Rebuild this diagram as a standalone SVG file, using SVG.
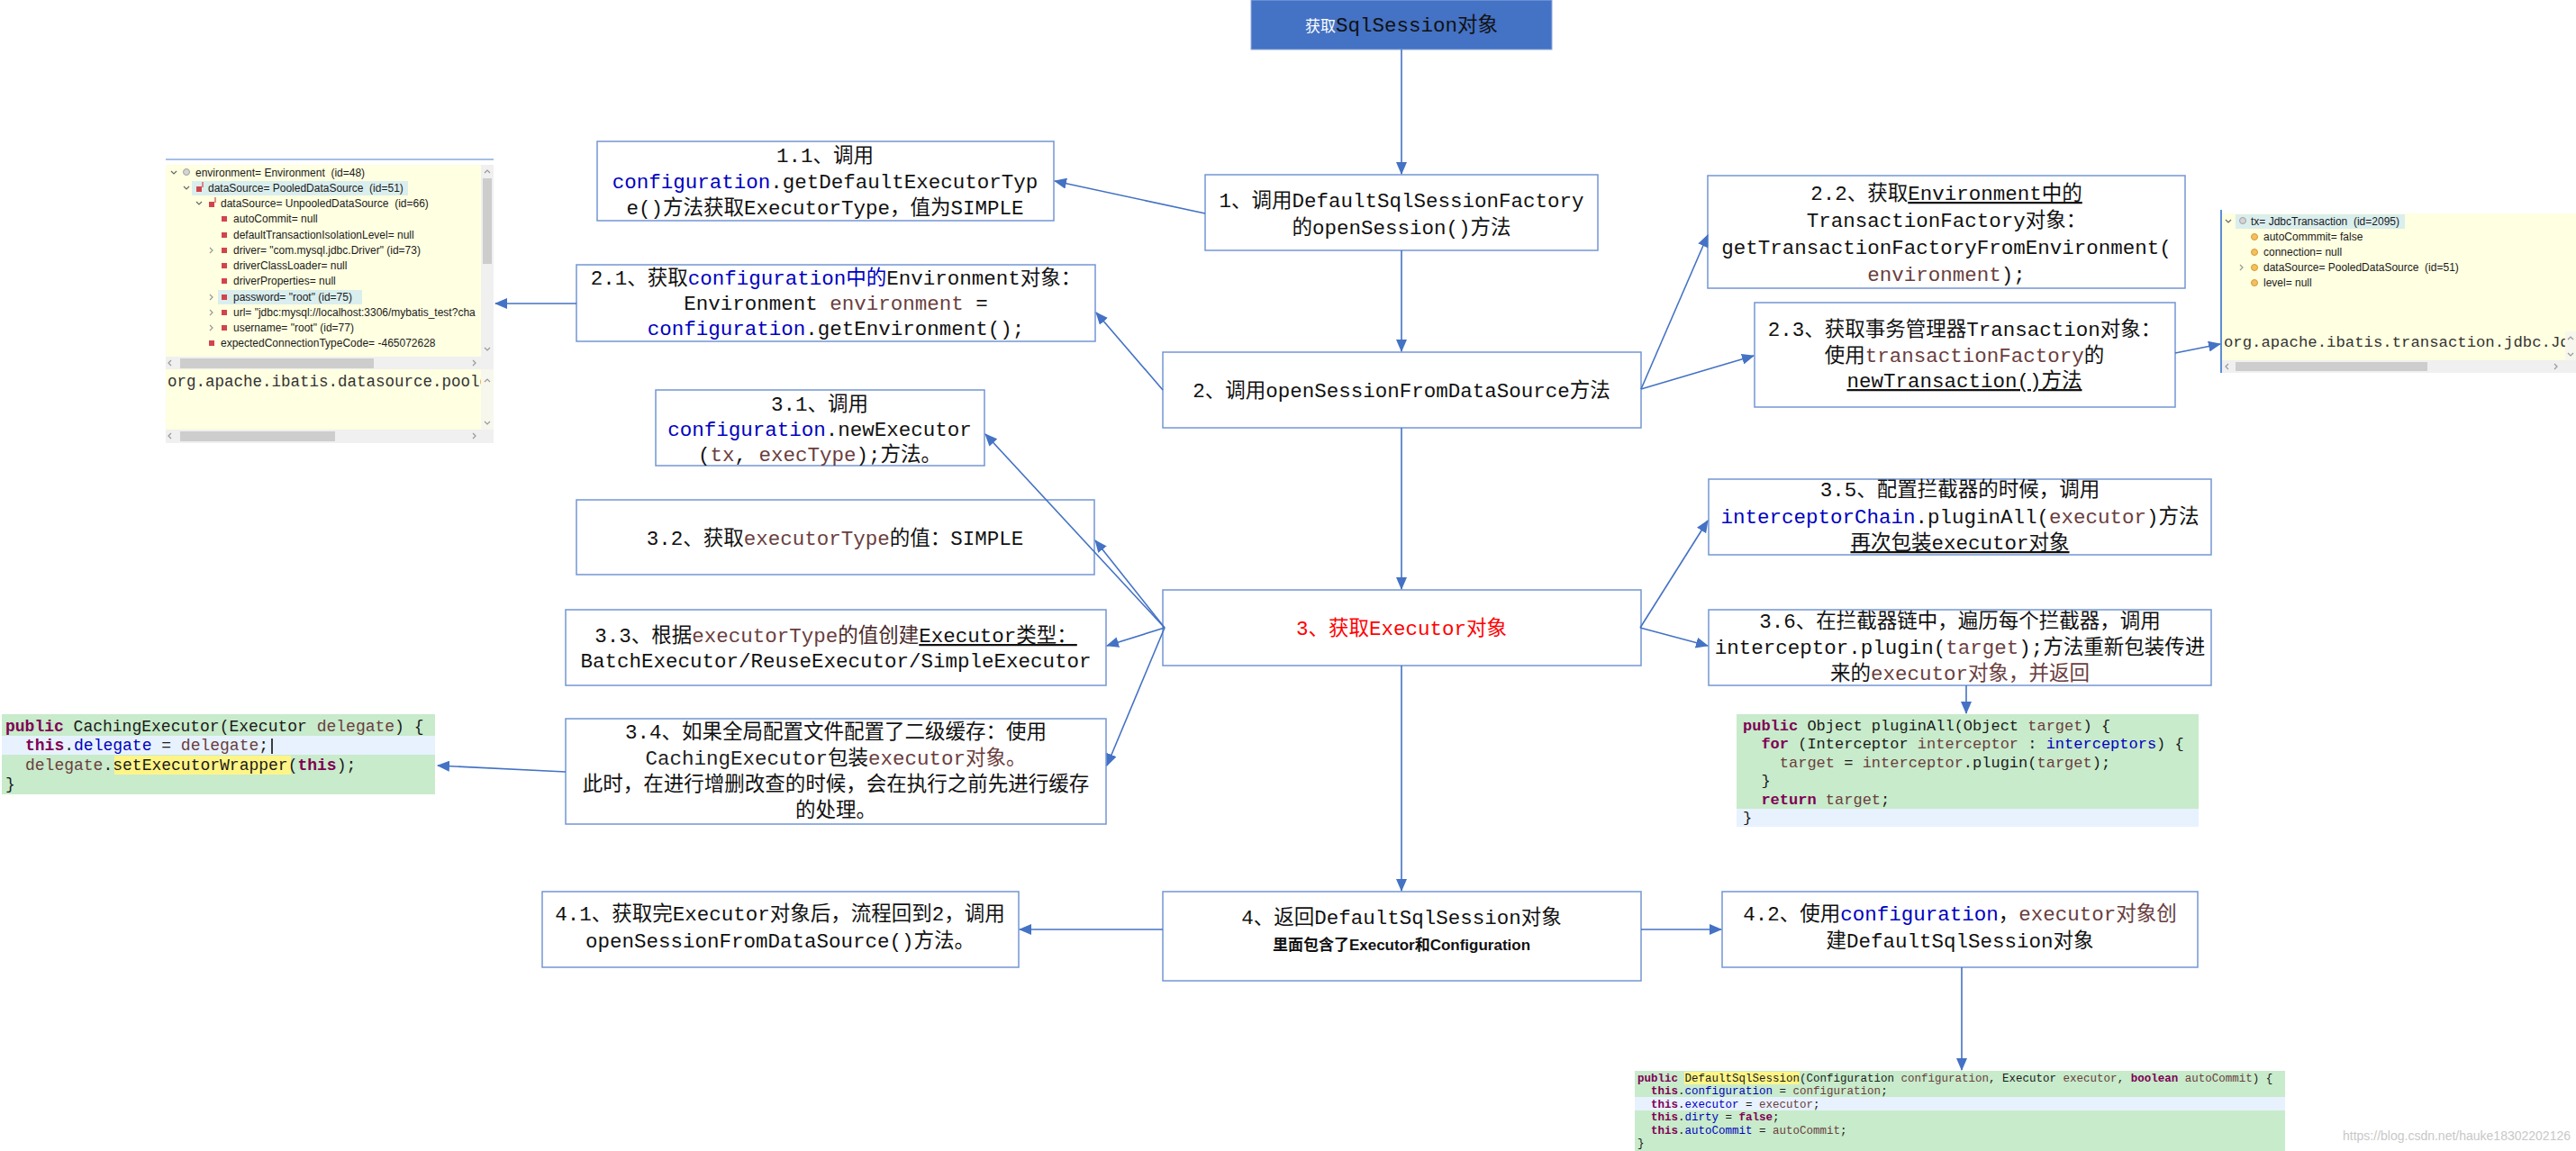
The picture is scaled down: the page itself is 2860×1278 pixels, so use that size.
<svg xmlns="http://www.w3.org/2000/svg" width="2860" height="1278" viewBox="0 0 2860 1278">
<defs>
<marker id="ah" markerUnits="userSpaceOnUse" markerWidth="14" markerHeight="12" refX="13" refY="6" orient="auto"><path d="M0,0 L14,6 L0,12 z" fill="#4472C4"/></marker>
<clipPath id="envclip"><rect x="184" y="183" width="350" height="213"/></clipPath>
<clipPath id="envtxt"><rect x="184" y="410" width="350" height="67"/></clipPath>
<clipPath id="txclip"><rect x="2467" y="368" width="381" height="32"/></clipPath>
</defs>
<style>
.box{fill:#fff;stroke:#7396D4;stroke-width:1.5}
.t{font-family:"Liberation Mono","Noto Sans CJK SC",monospace;font-size:22.5px;fill:#111;text-anchor:middle}
.b{fill:#0000C0}
.br{fill:#6A3E3E}
.u{text-decoration:underline}
.c{stroke:#4472C4;stroke-width:1.6;fill:none;marker-end:url(#ah)}
.code{font-family:"Liberation Mono",monospace;white-space:pre;fill:#1a1a1a}
.kw{fill:#7F0055;font-weight:bold}
.fd{fill:#0000C0}
.pa{fill:#6A3E3E}
.ui{font-family:"Liberation Sans",Arial,sans-serif;font-size:12px;fill:#1a1a1a;white-space:pre}
.chev{fill:none;stroke:#666;stroke-width:1.2}
.chevr{fill:none;stroke:#999;stroke-width:1.2}
.red{fill:#D2444C}
.org{fill:#F2C063;stroke:#D89A2A;stroke-width:1}
.gry{fill:#D4D4D4;stroke:#A0A0A0;stroke-width:1}
.sb{fill:#F0F0F0}
.th{fill:#CDCDCD}
.hl{fill:#DAEEEE}
.green{fill:#C8EBCB}
.lblue{fill:#E8F2FE}
.yel{fill:#FFF587}
</style>
<rect width="2860" height="1278" fill="#ffffff"/>

<g id="start">
<rect x="1389" y="0" width="334" height="55" fill="#4472C4" stroke="#8FAADC" stroke-width="1"/>
<text class="t" x="1556" y="35"><tspan fill="#ffffff" style="font-size:17px">获取</tspan>SqlSession对象</text>
</g>

<g id="n1">
<rect class="box" x="1338" y="194" width="436" height="84"/>
<text class="t" x="1556" y="230">1、调用DefaultSqlSessionFactory</text>
<text class="t" x="1556" y="260">的openSession()方法</text>
</g>

<g id="n1-1">
<rect class="box" x="663" y="157" width="507" height="88"/>
<text class="t" x="916" y="180">1.1、调用</text>
<text class="t" x="916" y="209"><tspan class="b">configuration</tspan>.getDefaultExecutorTyp</text>
<text class="t" x="916" y="238">e()方法获取ExecutorType，值为SIMPLE</text>
</g>

<g id="n2">
<rect class="box" x="1291" y="391" width="531" height="84"/>
<text class="t" x="1556" y="441">2、调用openSessionFromDataSource方法</text>
</g>

<g id="n2-1">
<rect class="box" x="640" y="294" width="576" height="85"/>
<text class="t" x="928" y="316">2.1、获取<tspan class="b">configuration中的</tspan>Environment对象：</text>
<text class="t" x="928" y="344">Environment <tspan class="br">environment</tspan> =</text>
<text class="t" x="928" y="372"><tspan class="b">configuration</tspan>.getEnvironment();</text>
</g>

<g id="n2-2">
<rect class="box" x="1896" y="195" width="530" height="125"/>
<text class="t" x="2161" y="222">2.2、获取<tspan class="u">Environment中的</tspan></text>
<text class="t" x="2161" y="252">TransactionFactory对象：</text>
<text class="t" x="2161" y="282">getTransactionFactoryFromEnvironment(</text>
<text class="t" x="2161" y="312"><tspan class="br">environment</tspan>);</text>
</g>

<g id="n2-3">
<rect class="box" x="1948" y="336" width="467" height="116"/>
<text class="t" x="2181" y="373">2.3、获取事务管理器Transaction对象：</text>
<text class="t" x="2181" y="402">使用<tspan class="br">transactionFactory</tspan>的</text>
<text class="t" x="2181" y="430"><tspan class="u">newTransaction()方法</tspan></text>
</g>

<g id="n3">
<rect class="box" x="1291" y="655" width="531" height="84"/>
<text class="t" x="1556" y="705" style="fill:#FF0000">3、获取Executor对象</text>
</g>

<g id="n3-1">
<rect class="box" x="728" y="433" width="365" height="84"/>
<text class="t" x="910" y="456">3.1、调用</text>
<text class="t" x="910" y="484"><tspan class="b">configuration</tspan>.newExecutor</text>
<text class="t" x="910" y="512">(<tspan class="br">tx</tspan>, <tspan class="br">execType</tspan>);方法。</text>
</g>

<g id="n3-2">
<rect class="box" x="640" y="555" width="575" height="83"/>
<text class="t" x="927" y="605">3.2、获取<tspan class="br">executorType</tspan>的值：SIMPLE</text>
</g>

<g id="n3-3">
<rect class="box" x="628" y="677" width="600" height="84"/>
<text class="t" x="928" y="713">3.3、根据<tspan class="br">executorType</tspan><tspan fill="#4A2A2A">的值创建</tspan><tspan class="u">Executor类型： </tspan></text>
<text class="t" x="928" y="741">BatchExecutor/ReuseExecutor/SimpleExecutor</text>
</g>

<g id="n3-4">
<rect class="box" x="628" y="798" width="600" height="117"/>
<text class="t" x="928" y="820">3.4、如果全局配置文件配置了二级缓存：使用</text>
<text class="t" x="928" y="849"><tspan fill="#222">CachingExecutor</tspan>包装<tspan class="br">executor对象。</tspan></text>
<text class="t" x="928" y="878">此时，在进行增删改查的时候，会在执行之前先进行缓存</text>
<text class="t" x="928" y="907">的处理。</text>
</g>

<g id="n3-5">
<rect class="box" x="1897" y="532" width="558" height="84"/>
<text class="t" x="2176" y="551">3.5、配置拦截器的时候，调用</text>
<text class="t" x="2176" y="581"><tspan class="b">interceptorChain</tspan>.pluginAll(<tspan class="br">executor</tspan>)方法</text>
<text class="t" x="2176" y="610"><tspan class="u">再次包装executor对象</tspan></text>
</g>

<g id="n3-6">
<rect class="box" x="1897" y="677" width="558" height="84"/>
<text class="t" x="2176" y="697">3.6、在拦截器链中，遍历每个拦截器，调用</text>
<text class="t" x="2176" y="726">interceptor.plugin(<tspan class="br">target</tspan>);方法重新包装传进</text>
<text class="t" x="2176" y="755">来的<tspan class="br">executor对象，并返回</tspan></text>
</g>

<g id="n4">
<rect class="box" x="1291" y="990" width="531" height="99"/>
<text class="t" x="1556" y="1026">4、返回DefaultSqlSession对象</text>
<text x="1556" y="1055" text-anchor="middle" style="font-family:'Liberation Sans','Noto Sans CJK SC',sans-serif;font-size:17px;font-weight:bold;fill:#111">里面包含了Executor和Configuration</text>
</g>

<g id="n4-1">
<rect class="box" x="602" y="990" width="529" height="84"/>
<text class="t" x="866" y="1022">4.1、获取完Executor对象后，流程回到2，调用</text>
<text class="t" x="866" y="1052">openSessionFromDataSource()方法。</text>
</g>

<g id="n4-2">
<rect class="box" x="1912" y="990" width="528" height="84"/>
<text class="t" x="2176" y="1022">4.2、使用<tspan class="b">configuration</tspan>，<tspan class="br">executor对象创</tspan></text>
<text class="t" x="2176" y="1052">建DefaultSqlSession对象</text>
</g>

<g id="env-debug">
<line x1="184" y1="177" x2="548" y2="177" stroke="#A8BFE6" stroke-width="2"/>
<rect x="184" y="183" width="350" height="213" fill="#FFFFE1"/>
<rect class="sb" x="534" y="183" width="14" height="213"/>
<rect class="th" x="536" y="198" width="10" height="95"/>
<polyline class="chevr" points="538,192 541,189 544,192"/>
<polyline class="chevr" points="538,386 541,389 544,386"/>
<rect class="hl" x="213" y="201" width="240" height="16"/>
<rect class="hl" x="242" y="322" width="160" height="16"/>
<g clip-path="url(#envclip)">
<polyline class="chev" points="190,190 193,193 196,190"/>
<circle class="gry" cx="207" cy="191" r="3.5"/>
<text class="ui" x="217" y="196">environment= Environment  (id=48)</text>
<polyline class="chev" points="204,207 207,210 210,207"/>
<rect class="red" x="218" y="207" width="6" height="6"/><line x1="225" y1="202" x2="225" y2="208" stroke="#D2444C" stroke-width="1.2"/>
<text class="ui" x="231" y="213">dataSource= PooledDataSource  (id=51)</text>
<polyline class="chev" points="218,224 221,227 224,224"/>
<rect class="red" x="232" y="224" width="6" height="6"/><line x1="239" y1="219" x2="239" y2="225" stroke="#D2444C" stroke-width="1.2"/>
<text class="ui" x="245" y="230">dataSource= UnpooledDataSource  (id=66)</text>
<rect class="red" x="246" y="240" width="6" height="6"/>
<text class="ui" x="259" y="247">autoCommit= null</text>
<rect class="red" x="246" y="258" width="6" height="6"/>
<text class="ui" x="259" y="265">defaultTransactionIsolationLevel= null</text>
<polyline class="chevr" points="233,275 236,278 233,281"/>
<rect class="red" x="246" y="275" width="6" height="6"/>
<text class="ui" x="259" y="282">driver= "com.mysql.jdbc.Driver" (id=73)</text>
<rect class="red" x="246" y="292" width="6" height="6"/>
<text class="ui" x="259" y="299">driverClassLoader= null</text>
<rect class="red" x="246" y="309" width="6" height="6"/>
<text class="ui" x="259" y="316">driverProperties= null</text>
<polyline class="chevr" points="233,327 236,330 233,333"/>
<rect class="red" x="246" y="327" width="6" height="6"/>
<text class="ui" x="259" y="334">password= "root" (id=75)</text>
<polyline class="chevr" points="233,344 236,347 233,350"/>
<rect class="red" x="246" y="344" width="6" height="6"/>
<text class="ui" x="259" y="351">url= "jdbc:mysql://localhost:3306/mybatis_test?cha</text>
<polyline class="chevr" points="233,361 236,364 233,367"/>
<rect class="red" x="246" y="361" width="6" height="6"/>
<text class="ui" x="259" y="368">username= "root" (id=77)</text>
<rect class="red" x="232" y="378" width="6" height="6"/>
<text class="ui" x="245" y="385">expectedConnectionTypeCode= -465072628</text>
</g>
<rect class="sb" x="184" y="396" width="364" height="14"/>
<rect class="th" x="200" y="398" width="215" height="11"/>
<polyline class="chevr" points="190,400 187,403 190,406"/>
<polyline class="chevr" points="525,400 528,403 525,406"/>
<rect x="184" y="410" width="350" height="67" fill="#FFFFE1"/>
<rect x="534" y="410" width="14" height="67" fill="#F7F7EE"/>
<polyline class="chevr" points="538,424 541,421 544,424"/>
<polyline class="chevr" points="538,468 541,471 544,468"/>
<text class="code" x="186" y="429" clip-path="url(#envtxt)" style="font-size:17.5px;fill:#333">org.apache.ibatis.datasource.poole</text>
<rect class="sb" x="184" y="477" width="364" height="15"/>
<rect class="th" x="200" y="479" width="172" height="11"/>
<polyline class="chevr" points="190,481 187,484 190,487"/>
<polyline class="chevr" points="525,481 528,484 525,487"/>
</g>

<g id="tx-debug">
<line x1="2466" y1="233" x2="2466" y2="414" stroke="#5B8FD6" stroke-width="2"/>
<rect x="2467" y="237" width="393" height="131" fill="#FFFFE1"/>
<rect class="hl" x="2482" y="238" width="188" height="16"/>
<polyline class="chev" points="2471,244 2474,247 2477,244"/>
<circle class="gry" cx="2490" cy="245" r="3.5"/>
<text class="ui" x="2499" y="250">tx= JdbcTransaction  (id=2095)</text>
<circle class="org" cx="2503" cy="263" r="3.5"/>
<text class="ui" x="2513" y="267">autoCommmit= false</text>
<circle class="org" cx="2503" cy="280" r="3.5"/>
<text class="ui" x="2513" y="284">connection= null</text>
<polyline class="chevr" points="2487,294 2490,297 2487,300"/>
<circle class="org" cx="2503" cy="297" r="3.5"/>
<text class="ui" x="2513" y="301">dataSource= PooledDataSource  (id=51)</text>
<circle class="org" cx="2503" cy="314" r="3.5"/>
<text class="ui" x="2513" y="318">level= null</text>
<rect x="2467" y="368" width="381" height="32" fill="#FFFFE1"/>
<rect x="2848" y="368" width="12" height="32" fill="#F7F7EE"/>
<polyline class="chevr" points="2851,377 2854,374 2857,377"/>
<polyline class="chevr" points="2851,392 2854,395 2857,392"/>
<text class="code" x="2469" y="385" clip-path="url(#txclip)" style="font-size:17.3px;fill:#333">org.apache.ibatis.transaction.jdbc.Jd</text>
<rect class="sb" x="2467" y="400" width="393" height="14"/>
<rect class="th" x="2482" y="402" width="213" height="10"/>
<polyline class="chevr" points="2474,404 2471,407 2474,410"/>
<polyline class="chevr" points="2836,404 2839,407 2836,410"/>
</g>

<g id="code-caching">
<rect class="green" x="2" y="793" width="481" height="89"/>
<rect class="lblue" x="2" y="817" width="481" height="21"/>
<rect class="yel" x="127" y="839" width="196" height="21"/>
<line x1="302" y1="820" x2="302" y2="837" stroke="#000" stroke-width="1.5"/>
<text class="code" x="6" y="812" style="font-size:18px"><tspan class="kw">public</tspan> CachingExecutor(Executor <tspan class="pa">delegate</tspan>) {</text>
<text class="code" x="28" y="833" style="font-size:18px"><tspan class="kw">this</tspan>.<tspan class="fd">delegate</tspan> = <tspan class="pa">delegate</tspan>;</text>
<text class="code" x="28" y="855" style="font-size:18px"><tspan class="pa">delegate</tspan>.setExecutorWrapper(<tspan class="kw">this</tspan>);</text>
<text class="code" x="6" y="876" style="font-size:18px">}</text>
</g>

<g id="code-pluginall">
<rect class="green" x="1928" y="793" width="513" height="105"/>
<rect class="lblue" x="1928" y="898" width="513" height="20"/>
<text class="code" x="1935" y="811" style="font-size:17px"><tspan class="kw">public</tspan> Object pluginAll(Object <tspan class="pa">target</tspan>) {</text>
<text class="code" x="1935" y="831" style="font-size:17px">  <tspan class="kw">for</tspan> (Interceptor <tspan class="pa">interceptor</tspan> : <tspan class="fd">interceptors</tspan>) {</text>
<text class="code" x="1935" y="852" style="font-size:17px">    <tspan class="pa">target</tspan> = <tspan class="pa">interceptor</tspan>.plugin(<tspan class="pa">target</tspan>);</text>
<text class="code" x="1935" y="872" style="font-size:17px">  }</text>
<text class="code" x="1935" y="893" style="font-size:17px">  <tspan class="kw">return</tspan> <tspan class="pa">target</tspan>;</text>
<text class="code" x="1935" y="913" style="font-size:17px">}</text>
</g>

<g id="code-defaultsqlsession">
<rect class="green" x="1815" y="1189" width="722" height="89"/>
<rect class="lblue" x="1815" y="1218" width="722" height="15"/>
<rect class="yel" x="1870" y="1190" width="128" height="14"/>
<text class="code" x="1818" y="1201" style="font-size:12.5px"><tspan class="kw">public</tspan> DefaultSqlSession(Configuration <tspan class="pa">configuration</tspan>, Executor <tspan class="pa">executor</tspan>, <tspan class="kw">boolean</tspan> <tspan class="pa">autoCommit</tspan>) {</text>
<text class="code" x="1818" y="1215" style="font-size:12.5px">  <tspan class="kw">this</tspan>.<tspan class="fd">configuration</tspan> = <tspan class="pa">configuration</tspan>;</text>
<text class="code" x="1818" y="1230" style="font-size:12.5px">  <tspan class="kw">this</tspan>.<tspan class="fd">executor</tspan> = <tspan class="pa">executor</tspan>;</text>
<text class="code" x="1818" y="1244" style="font-size:12.5px">  <tspan class="kw">this</tspan>.<tspan class="fd">dirty</tspan> = <tspan class="kw">false</tspan>;</text>
<text class="code" x="1818" y="1259" style="font-size:12.5px">  <tspan class="kw">this</tspan>.<tspan class="fd">autoCommit</tspan> = <tspan class="pa">autoCommit</tspan>;</text>
<text class="code" x="1818" y="1273" style="font-size:12.5px">}</text>
</g>

<g id="connectors">
<line class="c" x1="1556" y1="55" x2="1556" y2="193"/>
<line class="c" x1="1556" y1="278" x2="1556" y2="390"/>
<line class="c" x1="1556" y1="475" x2="1556" y2="654"/>
<line class="c" x1="1556" y1="739" x2="1556" y2="989"/>
<line class="c" x1="1338" y1="237" x2="1171" y2="201"/>
<line class="c" x1="1291" y1="433" x2="1217" y2="347"/>
<line class="c" x1="640" y1="337" x2="550" y2="337"/>
<line class="c" x1="1822" y1="432" x2="1896" y2="261"/>
<line class="c" x1="1822" y1="432" x2="1947" y2="395"/>
<line class="c" x1="2415" y1="392" x2="2465" y2="382"/>
<line class="c" x1="1293" y1="697" x2="1094" y2="482"/>
<line class="c" x1="1293" y1="697" x2="1216" y2="600"/>
<line class="c" x1="1293" y1="697" x2="1229" y2="717"/>
<line class="c" x1="1293" y1="697" x2="1229" y2="850"/>
<line class="c" x1="628" y1="857" x2="486" y2="850"/>
<line class="c" x1="1821" y1="697" x2="1896" y2="578"/>
<line class="c" x1="1821" y1="697" x2="1896" y2="717"/>
<line class="c" x1="2183" y1="761" x2="2183" y2="792"/>
<line class="c" x1="1291" y1="1032" x2="1132" y2="1032"/>
<line class="c" x1="1822" y1="1032" x2="1911" y2="1032"/>
<line class="c" x1="2178" y1="1074" x2="2178" y2="1188"/>
</g>

<g id="watermark">
<text x="2854" y="1266" text-anchor="end" style="font-family:'Liberation Sans',Arial,sans-serif;font-size:14px;fill:#C8C8C8">https://blog.csdn.net/hauke18302202126</text>
</g>
</svg>
